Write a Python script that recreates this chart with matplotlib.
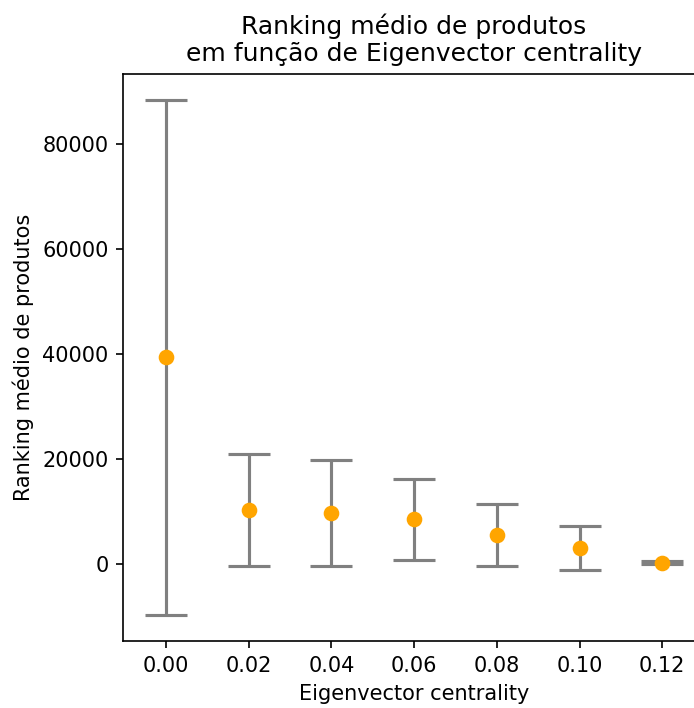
import matplotlib.pyplot as plt

# Eigenvector centrality bins and mean ranking (with std)
centrality = [0.00, 0.02, 0.04, 0.06, 0.08, 0.10, 0.12]
mean_rank = [39300, 10250, 9700, 8500, 5450, 3000, 200]
std_rank = [49100, 10700, 10050, 7700, 5850, 4250, 300]

fig = plt.figure(figsize=(694 / 150, 708 / 150), dpi=150)
ax = fig.add_axes([0.1772, 0.0946, 0.839, 0.801])

ax.errorbar(centrality, mean_rank, yerr=std_rank, fmt='o', color='orange',
            ecolor='gray', elinewidth=1.5, capsize=10, capthick=1.5,
            markersize=6.5, zorder=3)

ax.set_xlim(-0.0104, 0.1304)
ax.set_xticks(centrality)
ax.set_title("Ranking médio de produtos\nem função de Eigenvector centrality")
ax.set_xlabel("Eigenvector centrality")
ax.set_ylabel("Ranking médio de produtos")

fig.savefig("out.png", dpi=150)
